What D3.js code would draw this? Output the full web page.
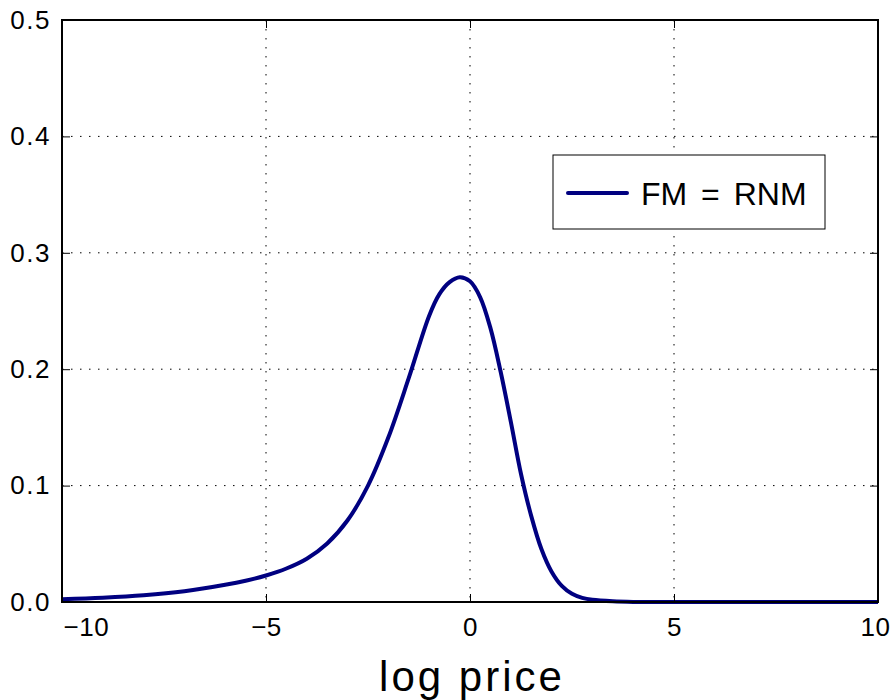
<!DOCTYPE html>
<html>
<head>
<meta charset="utf-8">
<script src="https://cdn.jsdelivr.net/npm/d3@7"></script>
<style>
  body { margin: 0; background: #fff; }
  text { font-family: "Liberation Sans", Arial, sans-serif; fill: #000; }
</style>
</head>
<body>
<script>
/******************************************************************************/
/* DATA                                                                       */
/******************************************************************************/
var logPrice = [-10, -9, -8, -7, -6, -5.5, -5, -4.5, -4, -3.5, -3, -2.5, -2,
  -1.5, -1, -0.75, -0.5, -0.25, 0, 0.25, 0.5, 0.75, 1, 1.25, 1.5, 1.75, 2,
  2.25, 2.5, 2.75, 3, 3.5, 4, 5, 6, 7, 8, 9, 10];
var density = [0.0023, 0.0036, 0.0057, 0.0092, 0.0148, 0.0183, 0.0228, 0.0288,
  0.0372, 0.0503, 0.0702, 0.1000, 0.1415, 0.1925, 0.2460, 0.2645, 0.2748,
  0.2790, 0.2755, 0.2618, 0.2355, 0.1980, 0.1550, 0.1100, 0.0740, 0.0455,
  0.0260, 0.0138, 0.0070, 0.0036, 0.0019, 0.0006, 0.0001, 0, 0, 0, 0, 0, 0];
var xTicks = [-10, -5, 0, 5, 10];
var yTicks = [0, 0.1, 0.2, 0.3, 0.4, 0.5];
var seriesName = "FM = RNM";
var xLabel = "log price";

/******************************************************************************/
/* GLOBAL                                                                     */
/******************************************************************************/
var width  = 892;
var height = 700;
var margin = {top: 20, right: 14, bottom: 98, left: 62};
var innerW = width - margin.left - margin.right;
var innerH = height - margin.top - margin.bottom;
var lineColor = "#000080";

var x = d3.scaleLinear().domain([-10, 10]).range([0, innerW]);
var y = d3.scaleLinear().domain([0, 0.5]).range([innerH, 0]);

/******************************************************************************/
/* DRAW                                                                       */
/******************************************************************************/
var svg = d3.select("body").append("svg")
  .attr("width", width)
  .attr("height", height);

var g = svg.append("g")
  .attr("transform", "translate(" + margin.left + "," + margin.top + ")");

// dotted grid
g.append("g").selectAll("line")
  .data(xTicks.slice(1, -1)).enter().append("line")
  .attr("x1", function(d) { return x(d); })
  .attr("x2", function(d) { return x(d); })
  .attr("y1", 0).attr("y2", innerH)
  .attr("stroke", "#000").attr("stroke-width", 1)
  .attr("stroke-dasharray", "1.5,7.5");

g.append("g").selectAll("line")
  .data(yTicks.slice(1, -1)).enter().append("line")
  .attr("y1", function(d) { return y(d); })
  .attr("y2", function(d) { return y(d); })
  .attr("x1", 0).attr("x2", innerW)
  .attr("stroke", "#000").attr("stroke-width", 1)
  .attr("stroke-dasharray", "1.5,7.5");

// curve
var line = d3.line()
  .x(function(d, i) { return x(logPrice[i]); })
  .y(function(d) { return y(d); })
  .curve(d3.curveCatmullRom.alpha(0.5));

g.append("path")
  .datum(density)
  .attr("d", line)
  .attr("fill", "none")
  .attr("stroke", lineColor)
  .attr("stroke-width", 4)
  .attr("stroke-linejoin", "round");

// axes (ticks pointing inward, on all four sides)
var tickLen = 8;
var xAxis = g.append("g")
  .attr("transform", "translate(0," + innerH + ")")
  .call(d3.axisBottom(x).tickValues(xTicks).tickSizeInner(-tickLen)
    .tickSizeOuter(0).tickPadding(16).tickFormat(d3.format("d")));
var yAxis = g.append("g")
  .call(d3.axisLeft(y).tickValues(yTicks).tickSizeInner(-tickLen)
    .tickSizeOuter(0).tickPadding(11).tickFormat(d3.format(".1f")));
g.append("g")
  .call(d3.axisTop(x).tickValues(xTicks).tickSizeInner(-tickLen)
    .tickSizeOuter(0).tickFormat(""));
g.append("g")
  .attr("transform", "translate(" + innerW + ",0)")
  .call(d3.axisRight(y).tickValues(yTicks).tickSizeInner(-tickLen)
    .tickSizeOuter(0).tickFormat(""));

g.selectAll(".domain").remove();
g.selectAll(".tick line").attr("stroke", "#000");
g.selectAll(".tick text")
  .attr("font-family", "Liberation Sans, Arial, sans-serif")
  .attr("font-size", 26);
yAxis.selectAll("text").attr("letter-spacing", 1.5);
xAxis.selectAll("text").attr("dy", "0.71em").attr("letter-spacing", 0.5);
// end labels are kept inside the box span
xAxis.selectAll(".tick text").filter(function(d) { return d === -10; })
  .attr("text-anchor", "start").attr("x", 1);
xAxis.selectAll(".tick text").filter(function(d) { return d === 10; })
  .attr("text-anchor", "end").attr("x", 12);

// box
g.append("rect")
  .attr("width", innerW).attr("height", innerH)
  .attr("fill", "none").attr("stroke", "#000").attr("stroke-width", 2);

// x label
svg.append("text")
  .attr("x", margin.left + x(0) + 2)
  .attr("y", 691)
  .attr("text-anchor", "middle")
  .attr("font-size", 42)
  .attr("letter-spacing", 3)
  .text(xLabel);

// legend
var legend = svg.append("g").attr("transform", "translate(553,155)");
legend.append("rect")
  .attr("width", 272).attr("height", 74)
  .attr("fill", "#fff").attr("stroke", "#000").attr("stroke-width", 1);
legend.append("line")
  .attr("x1", 15).attr("x2", 74).attr("y1", 38).attr("y2", 38)
  .attr("stroke", lineColor).attr("stroke-width", 4)
  .attr("stroke-linecap", "round");
legend.append("text")
  .attr("x", 88).attr("y", 50)
  .attr("font-size", 32)
  .attr("word-spacing", 5)
  .attr("xml:space", "preserve")
  .text(seriesName);
</script>
</body>
</html>
